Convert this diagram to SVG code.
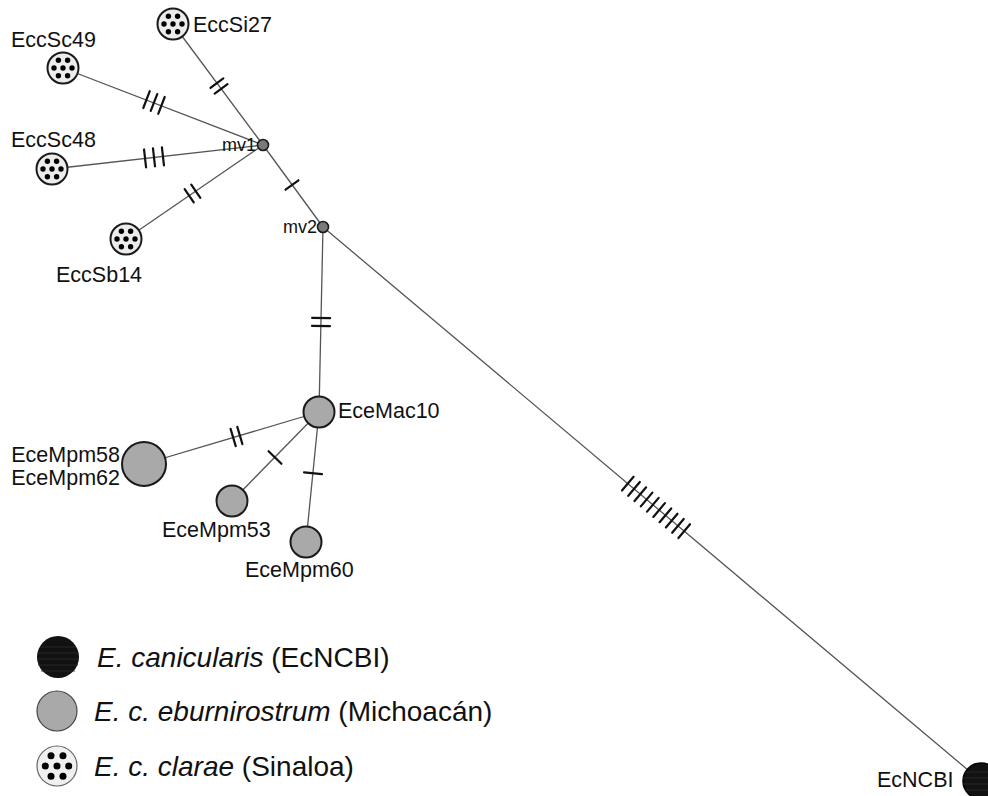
<svg xmlns="http://www.w3.org/2000/svg" xmlns:xlink="http://www.w3.org/1999/xlink" width="988" height="796" viewBox="0 0 988 796">
<defs>
<style>
.edge{stroke:#555;stroke-width:1.3;fill:none}
.tick{stroke:#111;stroke-width:2.2;stroke-linecap:round}
.gray{fill:#a9a9a9;stroke:#1a1a1a;stroke-width:2}
.dotc{fill:#ececec;stroke:#1a1a1a;stroke-width:2}
.mv{fill:#7a7a7a;stroke:#1a1a1a;stroke-width:1.6}
.blk{fill:#121212;stroke:#000;stroke-width:1.5}
.lbl{font-family:"Liberation Sans",Arial,sans-serif;font-size:21.5px;fill:#111}
.mvl{font-family:"Liberation Sans",Arial,sans-serif;font-size:18px;fill:#111}
.leg{font-family:"Liberation Sans",Arial,sans-serif;font-size:28px;fill:#111}
</style>
<g id="dots16">
<circle cx="0" cy="0" r="2.7" fill="#000"/>
<circle cx="9" cy="0" r="2.7" fill="#000"/>
<circle cx="-9" cy="0" r="2.7" fill="#000"/>
<circle cx="4.6" cy="7.8" r="2.7" fill="#000"/>
<circle cx="-4.6" cy="7.8" r="2.7" fill="#000"/>
<circle cx="4.6" cy="-7.8" r="2.7" fill="#000"/>
<circle cx="-4.6" cy="-7.8" r="2.7" fill="#000"/>
</g>
</defs>
<rect width="988" height="796" fill="#fff"/>

<g id="connectors">
<line class="edge" x1="173" y1="24" x2="263" y2="145"/>
<line class="edge" x1="63" y1="68" x2="263" y2="145"/>
<line class="edge" x1="52" y1="169" x2="263" y2="145"/>
<line class="edge" x1="126" y1="239" x2="263" y2="145"/>
<line class="edge" x1="263" y1="145" x2="323" y2="227"/>
<line class="edge" x1="323" y1="227" x2="319" y2="412"/>
<line class="edge" x1="319" y1="412" x2="144" y2="464"/>
<line class="edge" x1="319" y1="412" x2="232" y2="501"/>
<line class="edge" x1="319" y1="412" x2="306" y2="542"/>
<line class="edge" x1="323" y1="227" x2="981" y2="781"/>
<g transform="translate(219,86) rotate(53.4)"><line class="tick" x1="-3.5" y1="-8" x2="-3.5" y2="8"/><line class="tick" x1="3.5" y1="-8" x2="3.5" y2="8"/></g>
<g transform="translate(154,102.5) rotate(21.1)"><line class="tick" x1="-8" y1="-9" x2="-8" y2="9"/><line class="tick" x1="0" y1="-9" x2="0" y2="9"/><line class="tick" x1="8" y1="-9" x2="8" y2="9"/></g>
<g transform="translate(154,157.4) rotate(-6.5)"><line class="tick" x1="-9" y1="-9" x2="-9" y2="9"/><line class="tick" x1="0" y1="-9" x2="0" y2="9"/><line class="tick" x1="9" y1="-9" x2="9" y2="9"/></g>
<g transform="translate(192.5,193.5) rotate(-34.5)"><line class="tick" x1="-4" y1="-8" x2="-4" y2="8"/><line class="tick" x1="4" y1="-8" x2="4" y2="8"/></g>
<g transform="translate(292,185) rotate(53.8)"><line class="tick" x1="0" y1="-8" x2="0" y2="8"/></g>
<g transform="translate(321,322) rotate(91.2)"><line class="tick" x1="-4" y1="-9" x2="-4" y2="9"/><line class="tick" x1="4" y1="-9" x2="4" y2="9"/></g>
<g transform="translate(236.5,436.5) rotate(163.5)"><line class="tick" x1="-3.5" y1="-9" x2="-3.5" y2="9"/><line class="tick" x1="3.5" y1="-9" x2="3.5" y2="9"/></g>
<g transform="translate(275,457.5) rotate(134.3)"><line class="tick" x1="0" y1="-9" x2="0" y2="9"/></g>
<g transform="translate(313,473.3) rotate(95.7)"><line class="tick" x1="0" y1="-9" x2="0" y2="9"/></g>
<g transform="translate(656,507.4) rotate(40.1)">
<line class="tick" x1="-36.9" y1="-9" x2="-36.9" y2="9"/>
<line class="tick" x1="-28.7" y1="-9" x2="-28.7" y2="9"/>
<line class="tick" x1="-20.5" y1="-9" x2="-20.5" y2="9"/>
<line class="tick" x1="-12.3" y1="-9" x2="-12.3" y2="9"/>
<line class="tick" x1="-4.1" y1="-9" x2="-4.1" y2="9"/>
<line class="tick" x1="4.1" y1="-9" x2="4.1" y2="9"/>
<line class="tick" x1="12.3" y1="-9" x2="12.3" y2="9"/>
<line class="tick" x1="20.5" y1="-9" x2="20.5" y2="9"/>
<line class="tick" x1="28.7" y1="-9" x2="28.7" y2="9"/>
<line class="tick" x1="36.9" y1="-9" x2="36.9" y2="9"/>
</g>
</g>

<g id="EccSi27"><circle class="dotc" cx="173" cy="24" r="15.5"/><use xlink:href="#dots16" href="#dots16" transform="translate(173,24)"/><text class="lbl" x="193" y="32">EccSi27</text></g>
<g id="EccSc49"><circle class="dotc" cx="63" cy="68" r="15.5"/><use xlink:href="#dots16" href="#dots16" transform="translate(63,68)"/><text class="lbl" x="11" y="47">EccSc49</text></g>
<g id="EccSc48"><circle class="dotc" cx="52" cy="169" r="15.5"/><use xlink:href="#dots16" href="#dots16" transform="translate(52,169)"/><text class="lbl" x="11" y="147">EccSc48</text></g>
<g id="EccSb14"><circle class="dotc" cx="126" cy="239" r="15.5"/><use xlink:href="#dots16" href="#dots16" transform="translate(126,239)"/><text class="lbl" x="56" y="282">EccSb14</text></g>
<g id="mv1"><circle class="mv" cx="263" cy="145" r="5.5"/><text class="mvl" x="222" y="151">mv1</text></g>
<g id="mv2"><circle class="mv" cx="323" cy="227" r="5.5"/><text class="mvl" x="283" y="233">mv2</text></g>
<g id="EceMac10"><circle class="gray" cx="319" cy="412" r="15.5"/><text class="lbl" x="338" y="418">EceMac10</text></g>
<g id="EceMpm58"><circle class="gray" cx="144" cy="464" r="22"/><text class="lbl" x="120" y="462" text-anchor="end">EceMpm58</text><text class="lbl" x="120" y="485" text-anchor="end">EceMpm62</text></g>
<g id="EceMpm53"><circle class="gray" cx="232" cy="501" r="15.5"/><text class="lbl" x="162" y="537">EceMpm53</text></g>
<g id="EceMpm60"><circle class="gray" cx="306" cy="542" r="15.5"/><text class="lbl" x="245" y="577">EceMpm60</text></g>
<g id="EcNCBI"><circle class="blk" cx="981" cy="781" r="18"/>
<g stroke="#2e2e2e" stroke-width="0.8"><line x1="965" y1="772" x2="988" y2="772"/><line x1="963" y1="778" x2="988" y2="778"/><line x1="963" y1="784" x2="988" y2="784"/><line x1="965" y1="790" x2="988" y2="790"/></g>
<text class="lbl" x="877" y="787">EcNCBI</text></g>

<g id="legend">
<circle cx="58" cy="657" r="21" fill="#121212"/>
<g stroke="#2e2e2e" stroke-width="0.8"><line x1="40" y1="647" x2="76" y2="647"/><line x1="38" y1="653" x2="78" y2="653"/><line x1="37" y1="659" x2="79" y2="659"/><line x1="38" y1="665" x2="78" y2="665"/><line x1="41" y1="671" x2="75" y2="671"/></g>
<text class="leg" x="97" y="667"><tspan font-style="italic">E. canicularis</tspan> (EcNCBI)</text>
<circle cx="57" cy="711" r="20" fill="#a9a9a9" stroke="#444" stroke-width="1.2"/>
<text class="leg" x="94" y="721"><tspan font-style="italic">E. c. eburnirostrum</tspan> (Michoacán)</text>
<circle cx="57" cy="766" r="20" fill="#f0f0f0" stroke="#666" stroke-width="1.2"/>
<use xlink:href="#dots16" href="#dots16" transform="translate(57,766) scale(1.3)"/>
<text class="leg" x="94" y="776"><tspan font-style="italic">E. c. clarae</tspan> (Sinaloa)</text>
</g>
</svg>
